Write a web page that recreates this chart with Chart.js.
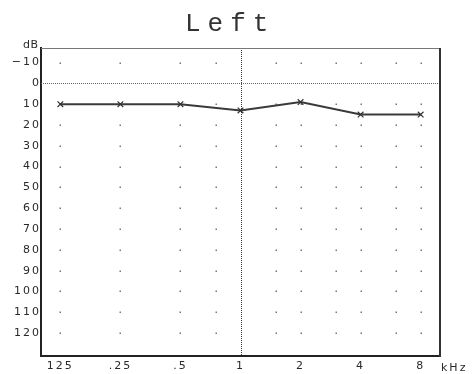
<!DOCTYPE html>
<html>
<head>
<meta charset="utf-8">
<title>Left</title>
<script src="https://cdn.jsdelivr.net/npm/chart.js@4/dist/chart.umd.min.js"></script>
<style>
  html, body { margin: 0; padding: 0; background: #fff; }
  #wrap { width: 473px; height: 374px; }
</style>
</head>
<body>
<div id="wrap"><canvas id="audiogram" width="473" height="374"></canvas></div>
<script>
// Test frequencies (Hz) and how they are printed under the axis
const freqs = [125, 250, 500, 1000, 2000, 4000, 8000];
const freqLabels = ['125', '.25', '.5', '1', '2', '4', '8'];

// Hearing threshold of the left ear (dB HL) at each test frequency
const thresholds = [10, 10, 10, 13, 9, 15, 15];

// Hearing level tick labels
const levelTicks = [-10, 0, 10, 20, 30, 40, 50, 60, 70, 80, 90, 100, 110, 120];

// Positions of the dotted reference grid
const dotFreqs = [125, 250, 500, 750, 1500, 2000, 3000, 4000, 6000, 8000];
const dotLevels = [-10, 10, 20, 30, 40, 50, 60, 70, 80, 90, 100, 110, 120];

const TICK_FONT = { family: 'DejaVu Sans', size: 11 };
const TICK_SPACING = '2px';
const INK = '#2a2a2a';

const audiogramMarks = {
  id: 'audiogramMarks',
  beforeUpdate(chart) { chart.ctx.letterSpacing = TICK_SPACING; },
  beforeDraw(chart) { chart.ctx.letterSpacing = TICK_SPACING; },
  beforeDatasetsDraw(chart) {
    const { ctx, chartArea: a, scales: { x, y } } = chart;
    ctx.save();
    // grid dots
    ctx.fillStyle = '#777';
    dotFreqs.forEach(f => {
      const px = Math.round(x.getPixelForValue(f));
      dotLevels.forEach(l => {
        const py = Math.round(y.getPixelForValue(l));
        ctx.fillRect(px - 0.5, py - 0.5, 1.5, 1.5);
      });
    });
    // dotted reference lines at 0 dB and 1 kHz
    ctx.lineWidth = 1;
    ctx.setLineDash([1, 1]);
    ctx.strokeStyle = '#666';
    const y0 = Math.round(y.getPixelForValue(0)) + 0.5;
    ctx.beginPath(); ctx.moveTo(a.left, y0); ctx.lineTo(a.right, y0); ctx.stroke();
    ctx.strokeStyle = '#333';
    const x1k = Math.round(x.getPixelForValue(1000)) + 0.5;
    ctx.beginPath(); ctx.moveTo(x1k, a.top); ctx.lineTo(x1k, a.bottom); ctx.stroke();
    // top and right frame
    ctx.setLineDash([]);
    ctx.strokeStyle = '#777';
    ctx.beginPath(); ctx.moveTo(a.left, a.top + 0.5); ctx.lineTo(a.right, a.top + 0.5); ctx.stroke();
    ctx.strokeStyle = '#333';
    ctx.lineWidth = 2;
    ctx.beginPath(); ctx.moveTo(a.right, a.top); ctx.lineTo(a.right, a.bottom + 1); ctx.stroke();
    ctx.restore();
  },
  afterDraw(chart) {
    const { ctx, chartArea: a } = chart;
    ctx.save();
    ctx.fillStyle = '#333';
    // title
    ctx.letterSpacing = '7px';
    ctx.font = '26px "Liberation Mono"';
    ctx.textAlign = 'left';
    ctx.textBaseline = 'alphabetic';
    ctx.fillText('Left', 185, 31);
    // unit labels
    ctx.fillStyle = INK;
    ctx.font = '11px "DejaVu Sans"';
    ctx.letterSpacing = '0.5px';
    ctx.fillText('dB', 23, 48);
    ctx.letterSpacing = TICK_SPACING;
    ctx.fillText('kHz', a.right + 1, 371);
    ctx.restore();
  }
};

new Chart(document.getElementById('audiogram'), {
  type: 'line',
  data: {
    datasets: [{
      label: 'Left',
      data: freqs.map((f, i) => ({ x: f, y: thresholds[i] })),
      borderColor: '#3a3a3a',
      borderWidth: 2,
      pointStyle: 'crossRot',
      pointRadius: 4,
      pointBorderWidth: 1.2,
      pointBorderColor: '#333',
      pointBackgroundColor: '#333',
      tension: 0
    }]
  },
  options: {
    responsive: false,
    animation: false,
    events: [],
    layout: { padding: { top: 48, right: 33, left: 0, bottom: 0 } },
    plugins: {
      legend: { display: false },
      title: { display: false },
      tooltip: { enabled: false }
    },
    scales: {
      x: {
        type: 'logarithmic',
        min: 100,
        max: 10000,
        afterBuildTicks: s => { s.ticks = freqs.map(v => ({ value: v })); },
        afterFit: s => { s.height = 18; },
        ticks: {
          autoSkip: false,
          maxRotation: 0,
          minRotation: 0,
          padding: 4,
          font: TICK_FONT,
          color: INK,
          callback: (v, i) => freqLabels[i]
        },
        grid: { display: false, drawTicks: false },
        border: { display: true, width: 2, color: '#222' }
      },
      y: {
        type: 'linear',
        reverse: true,
        min: -17,
        max: 131,
        afterBuildTicks: s => { s.ticks = levelTicks.map(v => ({ value: v })); },
        afterFit: s => { s.width = 41; },
        ticks: {
          autoSkip: false,
          padding: 0,
          font: TICK_FONT,
          color: INK,
          callback: v => (v < 0 ? '\u2212' + Math.abs(v) : String(v))
        },
        grid: { display: false, drawTicks: false },
        border: { display: true, width: 2, color: '#222' }
      }
    }
  },
  plugins: [audiogramMarks]
});
</script>
</body>
</html>
